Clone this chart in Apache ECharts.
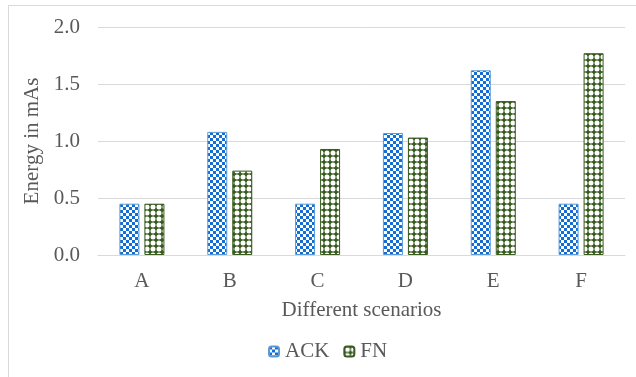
<!DOCTYPE html>
<html><head><meta charset="utf-8">
<script src="https://cdn.jsdelivr.net/npm/echarts@6/dist/echarts.min.js"></script>
<style>html,body{margin:0;padding:0;background:#fff}#c{width:636px;height:377px}
#frame{position:absolute;left:8px;top:5px;width:640px;height:400px;border:1px solid #d9d9d9;box-sizing:border-box;pointer-events:none}</style>
</head><body><div id="c"></div><div id="frame"></div>
<script>
const categories = ['A','B','C','D','E','F'];
const ackValues = [0.45, 1.08, 0.45, 1.07, 1.62, 0.45];
const fnValues = [0.45, 0.74, 0.93, 1.03, 1.35, 1.77];
const yTicks = [0, 0.5, 1.0, 1.5, 2.0];

function checker(){
  const c=document.createElement('canvas');c.width=6;c.height=6;const g=c.getContext('2d');
  g.fillStyle='#ffffff';g.fillRect(0,0,6,6);
  g.fillStyle='#136dd4';g.fillRect(0,0,3,3);g.fillRect(3,3,3,3);
  return c;
}
function dots(){
  const c=document.createElement('canvas');c.width=6;c.height=6;const g=c.getContext('2d');
  g.fillStyle='#375a1e';g.fillRect(0,0,6,6);
  g.fillStyle='#ffffff';g.beginPath();g.arc(3,3,2.5,0,Math.PI*2);g.fill();
  return c;
}
const ackPat={image:checker(),repeat:'repeat'};
const fnPat={image:dots(),repeat:'repeat'};
const font='Liberation Serif';
const chart=echarts.init(document.getElementById('c'));
chart.setOption({
  animation:false,
  textStyle:{fontFamily:font},
  grid:{left:98,right:11,top:27,bottom:122},
  legend:{top:336,left:263,itemWidth:10,itemHeight:10,itemGap:14,
    textStyle:{fontFamily:font,fontSize:21,color:'#595959',padding:[0,0,0,1]},
    data:['ACK','FN']},
  xAxis:{type:'category',data:categories,
    name:'Different scenarios',nameLocation:'middle',nameGap:45,
    nameTextStyle:{fontFamily:font,fontSize:21,color:'#595959'},
    axisTick:{show:false},axisLine:{lineStyle:{color:'#d9d9d9'}},
    axisLabel:{fontFamily:font,fontSize:21,color:'#595959',margin:16}},
  yAxis:{type:'value',min:0,max:2,interval:0.5,
    name:'Energy in mAs',nameLocation:'middle',nameGap:46,
    nameTextStyle:{fontFamily:font,fontSize:21,color:'#595959'},
    splitLine:{lineStyle:{color:'#d9d9d9'}},
    axisLabel:{fontFamily:font,fontSize:21,color:'#595959',margin:18,
      formatter:v=>yTicks.includes(v)?v.toFixed(1):''}},
  series:[
    {name:'ACK',type:'bar',data:ackValues,barWidth:20,barGap:'25%',
      itemStyle:{color:ackPat,borderColor:'#5b9bd5',borderWidth:1}},
    {name:'FN',type:'bar',data:fnValues,barWidth:20,barGap:'25%',
      itemStyle:{color:fnPat,borderColor:'#375a1e',borderWidth:1}}
  ]
});
</script></body></html>
